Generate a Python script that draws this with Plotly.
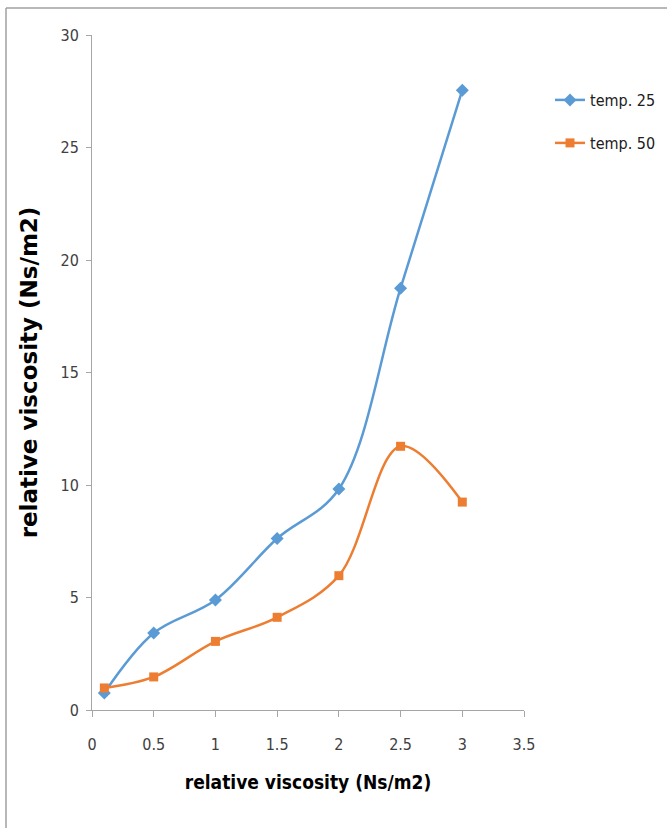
import plotly.graph_objects as go

x_vals = [0.1, 0.5, 1, 1.5, 2, 2.5, 3]
temp25 = [0.76, 3.42, 4.89, 7.62, 9.82, 18.75, 27.55]
temp50 = [0.98, 1.47, 3.05, 4.12, 5.97, 11.72, 9.24]
series_names = ["temp. 25", "temp. 50"]
x_ticks = [0, 0.5, 1, 1.5, 2, 2.5, 3, 3.5]
y_ticks = [0, 5, 10, 15, 20, 25, 30]

W, H = 667, 828
L, R, T, B = 92, 143, 35, 118
pw, ph = W - L - R, H - T - B

def px_to_paper_x(px):
    return (px - L) / pw

def px_to_paper_y(py):
    return (H - B - py) / ph

narrow = "Liberation Sans Narrow, DejaVu Sans Condensed, Roboto Condensed, sans-serif"

fig = go.Figure()
fig.add_trace(go.Scatter(
    x=x_vals, y=temp25, name=series_names[0], mode="lines+markers",
    line=dict(color="#5B9BD5", width=2.5, shape="spline", smoothing=1.0),
    marker=dict(symbol="diamond", size=10, color="#5B9BD5"),
    legend="legend",
))
fig.add_trace(go.Scatter(
    x=x_vals, y=temp50, name=series_names[1], mode="lines+markers",
    line=dict(color="#ED7D31", width=2.5, shape="spline", smoothing=1.0),
    marker=dict(symbol="square", size=9, color="#ED7D31"),
    legend="legend2",
))

tick_font = dict(family=narrow, size=16, color="#404040")
leg_font = dict(family=narrow, size=16, color="#202020")

fig.update_layout(
    width=W, height=H,
    margin=dict(l=L, r=R, t=T, b=B, autoexpand=False),
    paper_bgcolor="white", plot_bgcolor="white",
    showlegend=True,
    legend=dict(x=px_to_paper_x(550), y=px_to_paper_y(100), xanchor="left", yanchor="middle",
                font=leg_font, bgcolor="rgba(0,0,0,0)", itemwidth=30),
    legend2=dict(x=px_to_paper_x(550), y=px_to_paper_y(143), xanchor="left", yanchor="middle",
                 font=leg_font, bgcolor="rgba(0,0,0,0)", itemwidth=30),
    xaxis=dict(
        range=[0, 3.5], tickvals=x_ticks, ticktext=[f"{v:g}" for v in x_ticks],
        showgrid=False, zeroline=False, showline=True, linecolor="#a6a6a6", linewidth=1,
        ticks="outside", ticklen=6, tickcolor="#a6a6a6", tickfont=tick_font,
        ticklabelstandoff=14,
        title=dict(text="<b>relative viscosity (Ns/m2)</b>", standoff=22,
                   font=dict(family=narrow, size=19, color="#000000")),
    ),
    yaxis=dict(
        range=[0, 30], tickvals=y_ticks, ticktext=[str(v) for v in y_ticks],
        showgrid=False, zeroline=False, showline=True, linecolor="#a6a6a6", linewidth=1,
        ticks="outside", ticklen=5, tickcolor="#a6a6a6", tickfont=tick_font,
        ticklabelstandoff=4,
        title=dict(text="<b>relative viscosity (Ns/m2)</b>", standoff=16,
                   font=dict(family="DejaVu Sans, Verdana, sans-serif", size=23, color="#000000")),
    ),
    shapes=[
        dict(type="line", xref="paper", yref="paper",
             x0=px_to_paper_x(6), x1=px_to_paper_x(667), y0=px_to_paper_y(8), y1=px_to_paper_y(8),
             line=dict(color="#a0a0a0", width=1.5)),
        dict(type="line", xref="paper", yref="paper",
             x0=px_to_paper_x(6), x1=px_to_paper_x(6), y0=px_to_paper_y(8), y1=px_to_paper_y(828),
             line=dict(color="#a0a0a0", width=1.5)),
    ],
)

fig.write_html("out.html", config={"displayModeBar": False},
               post_script="document.body.style.margin='0';document.body.style.overflow='hidden';")
